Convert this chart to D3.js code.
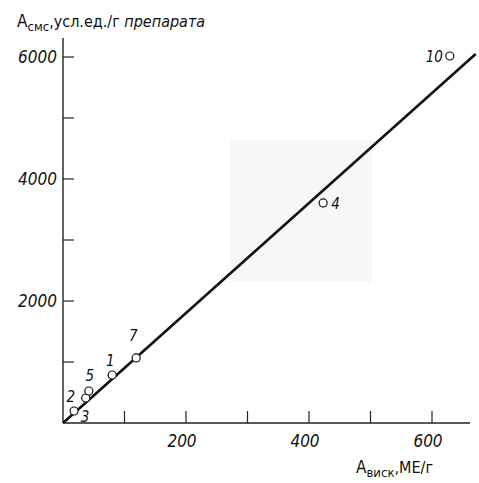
<!DOCTYPE html>
<html><head><meta charset="utf-8">
<script src="https://cdn.jsdelivr.net/npm/d3@7"></script>
<style>
html,body{margin:0;padding:0;background:#fff;}
svg{display:block;}
text{font-family:"DejaVu Sans Condensed","DejaVu Sans",sans-serif;fill:#111;}
</style></head><body>
<script>
// ---- data ----
const pointLabels = ["1", "2", "3", "4", "5", "7", "10"];
const xValues = [80, 37, 18, 423, 42, 119, 629];
const yValues = [787, 410, 197, 3607, 525, 1066, 6016];
const lineX = [0, 671];
const lineY = [0, 6049];
const xTickLabels = [200, 400, 600];
const xMinorTicks = [100, 300, 500];
const yTickLabels = [2000, 4000, 6000];
const yMinorTicks = [1000, 3000, 5000];

// label placement (style only)
const labelOffsets = {
  "1": [-2, -9, "middle"], "2": [-15, 4, "middle"], "3": [11, 11, "middle"],
  "4": [8, 6, "start"], "5": [1, -10, "middle"], "7": [-3, -17, "middle"],
  "10": [-7, 6, "end"]
};

const W = 479, H = 483;
const svg = d3.select("body").append("svg").attr("width", W).attr("height", H);

// faint scan artifact
svg.append("rect").attr("x", 230).attr("y", 140).attr("width", 142).attr("height", 142)
  .attr("fill", "#f7f7f7");

const x = d3.scaleLinear().domain([0, 600]).range([63, 432]);
const y = d3.scaleLinear().domain([0, 6000]).range([423, 57]);

// axes lines
svg.append("line").attr("x1", 63).attr("x2", 63).attr("y1", 38).attr("y2", y(0))
  .attr("stroke", "#222").attr("stroke-width", 1.4);
svg.append("line").attr("x1", 63).attr("x2", 470).attr("y1", y(0)).attr("y2", y(0))
  .attr("stroke", "#222").attr("stroke-width", 1.4);

// ticks
const allX = xTickLabels.concat(xMinorTicks);
svg.selectAll(".xt").data(allX).enter().append("line")
  .attr("x1", d => x(d)).attr("x2", d => x(d)).attr("y1", y(0)).attr("y2", y(0) - 12)
  .attr("stroke", "#222").attr("stroke-width", 1.2);
const allY = yTickLabels.concat(yMinorTicks);
svg.selectAll(".yt").data(allY).enter().append("line")
  .attr("x1", 63).attr("x2", 74).attr("y1", d => y(d)).attr("y2", d => y(d))
  .attr("stroke", "#222").attr("stroke-width", 1.2);

// tick labels
svg.selectAll(".xl").data(xTickLabels).enter().append("text")
  .attr("x", d => x(d) - 4).attr("y", 447).attr("text-anchor", "middle")
  .attr("font-size", 17).attr("font-style", "italic").text(d => d);
svg.selectAll(".yl").data(yTickLabels).enter().append("text")
  .attr("x", 57).attr("y", d => y(d) + 6).attr("text-anchor", "end")
  .attr("font-size", 17).attr("font-style", "italic").text(d => d);

// regression line
svg.append("line")
  .attr("x1", x(lineX[0])).attr("y1", y(lineY[0]))
  .attr("x2", x(lineX[1])).attr("y2", y(lineY[1]))
  .attr("stroke", "#111").attr("stroke-width", 2.6);

// points
const pts = pointLabels.map((l, i) => ({l, x: xValues[i], y: yValues[i]}));
svg.selectAll(".pt").data(pts).enter().append("circle")
  .attr("cx", d => x(d.x)).attr("cy", d => y(d.y)).attr("r", 4)
  .attr("fill", "#fff").attr("stroke", "#111").attr("stroke-width", 1.2);
svg.selectAll(".pl").data(pts).enter().append("text")
  .attr("x", d => x(d.x) + labelOffsets[d.l][0])
  .attr("y", d => y(d.y) + labelOffsets[d.l][1])
  .attr("text-anchor", d => labelOffsets[d.l][2])
  .attr("font-size", 15).attr("font-style", "italic").text(d => d.l);

// axis titles
const yt = svg.append("text").attr("x", 17).attr("y", 27).attr("font-size", 16);
yt.append("tspan").attr("font-size", 17).text("A");
yt.append("tspan").attr("font-size", 13).attr("dy", 4).text("смс");
yt.append("tspan").attr("dy", -4).text(",усл.ед./г ");
yt.append("tspan").attr("font-style", "italic").text("препарата");

const xt = svg.append("text").attr("x", 356).attr("y", 473).attr("font-size", 16);
xt.append("tspan").attr("font-size", 17).text("A");
xt.append("tspan").attr("font-size", 13).attr("dy", 4).text("виск");
xt.append("tspan").attr("dy", -4).text(",МЕ/г");
</script>
</body></html>
